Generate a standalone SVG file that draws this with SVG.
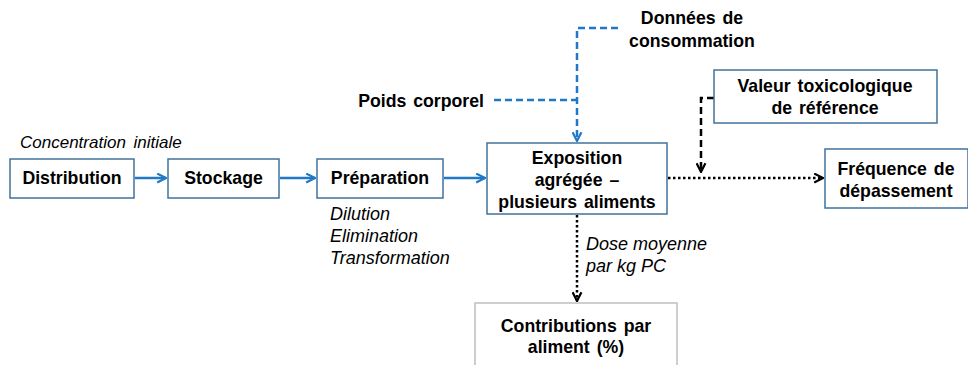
<svg xmlns="http://www.w3.org/2000/svg" width="968" height="365" viewBox="0 0 968 365">
<style>
.box{fill:#fff;stroke:#41719c;stroke-width:1.5}
.gbox{fill:#fff;stroke:#bfbfbf;stroke-width:1.5}
.b{font-family:"Liberation Sans",Arial,sans-serif;font-weight:bold;font-size:17.7px;fill:#000;text-anchor:middle;word-spacing:2px}
.i{font-family:"Liberation Sans",Arial,sans-serif;font-style:italic;font-size:18px;fill:#000}
.blue{stroke:#1f78c8;stroke-width:2.5;fill:none}
.bdash{stroke:#1f78c8;stroke-width:2.5;fill:none;stroke-dasharray:7 4}
.kdash{stroke:#000;stroke-width:2.5;fill:none;stroke-dasharray:7 4}
.kdot{stroke:#000;stroke-width:2.5;fill:none;stroke-dasharray:2.5 2.5}
</style>
<defs>
<marker id="ab" viewBox="0 0 10 10" refX="9" refY="5" markerWidth="4.4" markerHeight="4.4" orient="auto" markerUnits="strokeWidth"><path d="M1,1 L9,5 L1,9" fill="none" stroke="#1f78c8" stroke-width="2"/></marker>
<marker id="ak" viewBox="0 0 10 10" refX="9" refY="5" markerWidth="4.4" markerHeight="4.4" orient="auto" markerUnits="strokeWidth"><path d="M1,1 L9,5 L1,9" fill="none" stroke="#000" stroke-width="2"/></marker>
</defs>
<g id="connectors">
<line class="blue" x1="135" y1="178" x2="166" y2="178" marker-end="url(#ab)"/>
<line class="blue" x1="280" y1="178" x2="315" y2="178" marker-end="url(#ab)"/>
<line class="blue" x1="444" y1="178" x2="485" y2="178" marker-end="url(#ab)"/>
<polyline class="bdash" points="618,28 577,28 577,141" marker-end="url(#ab)"/>
<line class="bdash" x1="494" y1="100" x2="577" y2="100"/>
<polyline class="kdash" points="714,98 701,98 701,172" marker-end="url(#ak)"/>
<line class="kdot" x1="668" y1="178" x2="823" y2="178" marker-end="url(#ak)"/>
<line class="kdot" x1="577" y1="215" x2="577" y2="301" marker-end="url(#ak)"/>
</g>
<g id="distribution"><rect class="box" x="10" y="159" width="124" height="39"/><text class="b" x="72" y="184">Distribution</text></g>
<g id="stockage"><rect class="box" x="168" y="159" width="111" height="39"/><text class="b" x="223.5" y="184">Stockage</text></g>
<g id="preparation"><rect class="box" x="317" y="159" width="126" height="39"/><text class="b" x="380" y="184">Préparation</text></g>
<g id="exposition"><rect class="box" x="487" y="143" width="180" height="71"/><text class="b" x="577" y="164">Exposition</text><text class="b" x="577" y="186">agrégée –</text><text class="b" x="577" y="208">plusieurs aliments</text></g>
<g id="valeur"><rect class="box" x="714" y="70" width="223" height="53"/><text class="b" x="825" y="92">Valeur toxicologique</text><text class="b" x="825" y="114">de référence</text></g>
<g id="frequence"><rect class="box" x="825" y="149" width="143" height="59"/><text class="b" x="896" y="175">Fréquence de</text><text class="b" x="896" y="197">dépassement</text></g>
<g id="contributions"><rect class="gbox" x="475" y="303" width="202" height="70"/><text class="b" x="576" y="332">Contributions par</text><text class="b" x="576" y="353">aliment (%)</text></g>
<g id="donnees"><text class="b" x="692" y="24">Données de</text><text class="b" x="692" y="47">consommation</text></g>
<g id="poids"><text class="b" x="484" y="107" style="text-anchor:end">Poids corporel</text></g>
<g id="labels">
<text class="i" x="20" y="148" style="font-size:17px;word-spacing:3px">Concentration initiale</text>
<text class="i" x="330" y="220">Dilution</text>
<text class="i" x="330" y="242">Elimination</text>
<text class="i" x="330" y="264">Transformation</text>
<text class="i" x="586" y="250">Dose moyenne</text>
<text class="i" x="586" y="272">par kg PC</text>
</g>
</svg>
